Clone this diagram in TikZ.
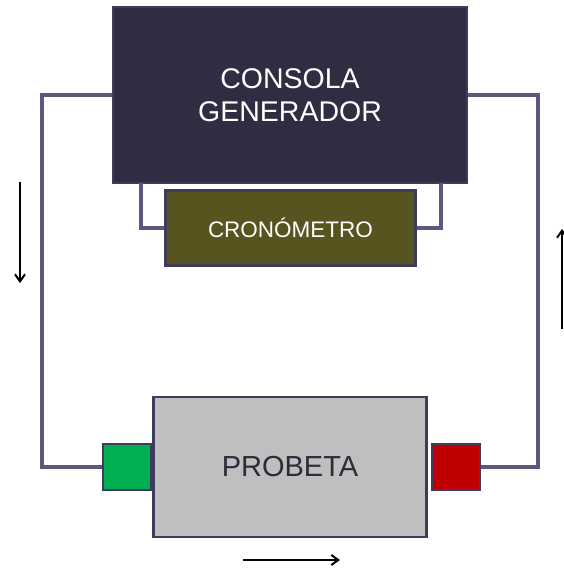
\documentclass[tikz,border=0pt]{standalone}
\usepackage{fontspec}
\setmainfont{Liberation Sans}
\usetikzlibrary{arrows.meta}
\definecolor{consfill}{HTML}{2F2D42}
\definecolor{boxline}{HTML}{3F3B5C}
\definecolor{wire}{HTML}{5C5880}
\definecolor{cronfill}{HTML}{575420}
\definecolor{probfill}{HTML}{BFBFBF}
\definecolor{probtext}{HTML}{2C2C3A}
\definecolor{termgreen}{HTML}{00B050}
\definecolor{termred}{HTML}{C00000}
\tikzset{
  blk/.style={draw=boxline, line width=2.5pt, inner sep=0pt, align=center},
  wireline/.style={draw=wire, line width=4pt},
  flowarrow/.style={draw=black, line width=2pt, -{Straight Barb[length=7pt,width=10pt]}},
}
\begin{document}
\begin{tikzpicture}[x=1pt,y=-1pt]
\useasboundingbox (0,0) rectangle (564,571);
\node[blk, fill=consfill, text=white, minimum width=354pt, minimum height=176pt, font=\fontsize{28.5}{33}\selectfont] (cons) at (290,95) {CONSOLA\\GENERADOR};
\node[blk, fill=cronfill, text=white, minimum width=250pt, minimum height=75pt, font=\fontsize{22.5}{26}\selectfont] (cron) at (290.5,228) {CRONÓMETRO};
\node[blk, fill=probfill, text=probtext, minimum width=273pt, minimum height=140pt, font=\fontsize{29}{33}\selectfont] (prob) at (290,467) {PROBETA};
\node[blk, fill=termgreen, minimum width=48pt, minimum height=46pt] (green) at (127,467) {};
\node[blk, fill=termred, minimum width=48pt, minimum height=46pt] (red) at (456,467) {};
\coordinate (lc) at (42,467);
\coordinate (rc) at (538,95);
\coordinate (cl) at (141,183);
\coordinate (cr) at (441,183);
\draw[wireline] (cons.west) -| (lc) -- (green.west);
\draw[wireline] (red.east) -| (rc) -- (cons.east);
\draw[wireline] (cl) |- (cron.west);
\draw[wireline] (cr) |- (cron.east);
\coordinate (a1s) at (20,182);
\coordinate (a1e) at (20,283);
\coordinate (a2s) at (562,329);
\coordinate (a2e) at (562,229);
\coordinate (a3s) at (243,560);
\coordinate (a3e) at (340,560);
\draw[flowarrow] (a1s) -- (a1e);
\draw[flowarrow] (a2s) -- (a2e);
\draw[flowarrow] (a3s) -- (a3e);
\end{tikzpicture}
\end{document}
